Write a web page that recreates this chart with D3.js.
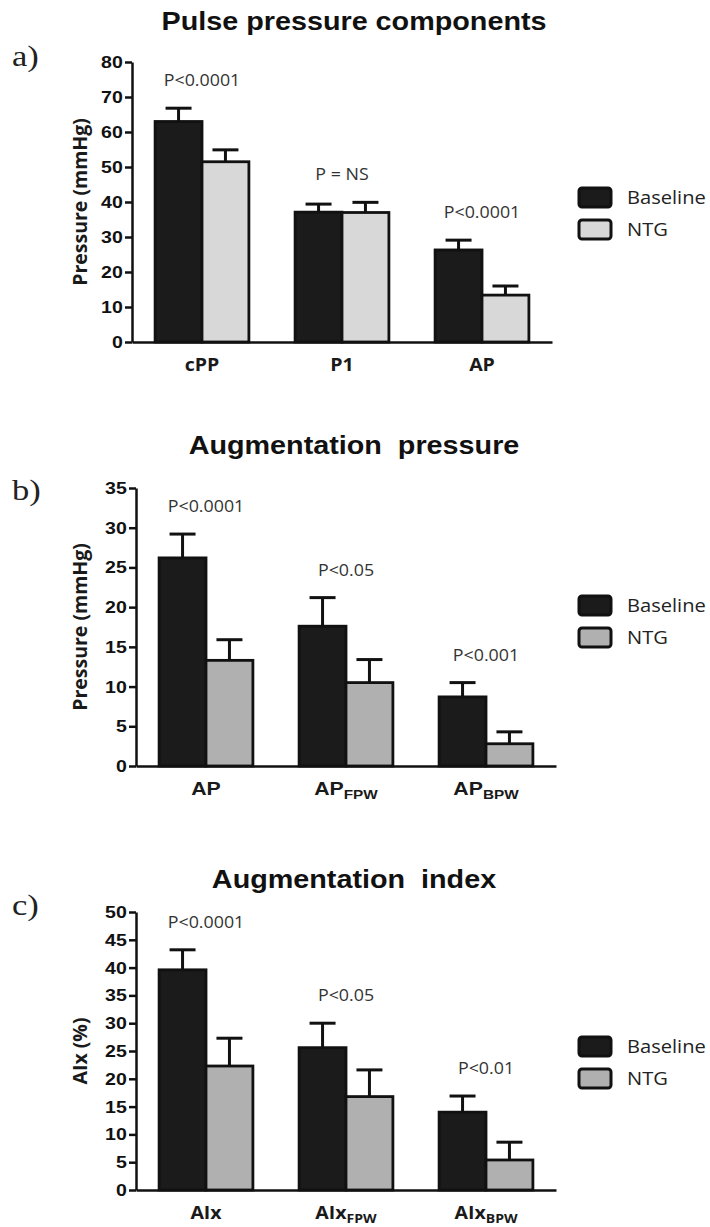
<!DOCTYPE html>
<html>
<head>
<meta charset="utf-8">
<script src="https://cdn.jsdelivr.net/npm/d3@7"></script>
<style>
  html, body { margin: 0; padding: 0; background: #fff; }
  svg { display: block; }
</style>
</head>
<body>
<div id="chart"></div>
<script>
// ---- Data -------------------------------------------------------------
const seriesNames = ["Baseline", "NTG"];

// a) Pulse pressure components (mmHg)
const categoriesA = ["cPP", "P1", "AP"];
const subscriptsA = ["", "", ""];
const baselineA = [63.0, 37.1, 26.3];
const baselineErrA = [3.8, 2.3, 2.8];
const ntgA = [51.5, 37.0, 13.4];
const ntgErrA = [3.4, 2.9, 2.6];
const pValuesA = ["P<0.0001", "P = NS", "P<0.0001"];
const yTicksA = [0, 10, 20, 30, 40, 50, 60, 70, 80];

// b) Augmentation pressure (mmHg)
const categoriesB = ["AP", "AP", "AP"];
const subscriptsB = ["", "FPW", "BPW"];
const baselineB = [26.2, 17.6, 8.7];
const baselineErrB = [3.0, 3.6, 1.8];
const ntgB = [13.3, 10.5, 2.8];
const ntgErrB = [2.6, 2.9, 1.5];
const pValuesB = ["P<0.0001", "P<0.05", "P<0.001"];
const yTicksB = [0, 5, 10, 15, 20, 25, 30, 35];

// c) Augmentation index (%)
const categoriesC = ["AIx", "AIx", "AIx"];
const subscriptsC = ["", "FPW", "BPW"];
const baselineC = [39.6, 25.6, 14.0];
const baselineErrC = [3.6, 4.4, 2.9];
const ntgC = [22.3, 16.8, 5.4];
const ntgErrC = [5.0, 4.8, 3.2];
const pValuesC = ["P<0.0001", "P<0.05", "P<0.01"];
const yTicksC = [0, 5, 10, 15, 20, 25, 30, 35, 40, 45, 50];

// ---- Drawing ----------------------------------------------------------
const W = 710, H = 1227;
const SX = 1.15; // glyphs in this figure are set slightly wide
const svg = d3.select("#chart").append("svg")
  .attr("width", W).attr("height", H)
  .attr("viewBox", `0 0 ${W} ${H}`);

function wideText(parent, x, y, str, style) {
  const t = parent.append("text")
    .attr("transform", `translate(${x},${y}) scale(${SX},1)`)
    .attr("x", 0).attr("y", 0)
    .text(str);
  Object.entries(style || {}).forEach(([k, v]) => t.attr(k, v));
  return t;
}

function drawPanel(p) {
  const g = svg.append("g");

  const y = d3.scaleLinear().domain([0, p.yTicks[p.yTicks.length - 1]])
    .range([p.bottom, p.top]);
  const x = d3.scaleBand().domain(d3.range(p.categories.length))
    .range([p.left, p.right]).paddingInner(0.33).paddingOuter(0.165);
  const xs = d3.scaleBand().domain(seriesNames).range([0, x.bandwidth()]);
  const fills = { Baseline: "#1b1b1b", NTG: p.ntgFill };

  const rows = p.categories.map((c, i) => ({
    i,
    values: [
      { s: "Baseline", v: p.baseline[i], e: p.baselineErr[i] },
      { s: "NTG", v: p.ntg[i], e: p.ntgErr[i] }
    ]
  }));

  // bars with upward error bars
  const grp = g.selectAll("g.grp").data(rows).join("g")
    .attr("transform", d => `translate(${x(d.i)},0)`);
  const bar = grp.selectAll("g.bar").data(d => d.values).join("g");
  bar.append("line")
    .attr("x1", d => xs(d.s) + xs.bandwidth() / 2)
    .attr("x2", d => xs(d.s) + xs.bandwidth() / 2)
    .attr("y1", d => y(d.v)).attr("y2", d => y(d.v + d.e))
    .attr("stroke", "#111").attr("stroke-width", 3);
  bar.append("line")
    .attr("x1", d => xs(d.s) + xs.bandwidth() / 2 - 13)
    .attr("x2", d => xs(d.s) + xs.bandwidth() / 2 + 13)
    .attr("y1", d => y(d.v + d.e)).attr("y2", d => y(d.v + d.e))
    .attr("stroke", "#111").attr("stroke-width", 3);
  bar.append("rect")
    .attr("x", d => xs(d.s))
    .attr("width", xs.bandwidth())
    .attr("y", d => y(d.v))
    .attr("height", d => y(0) - y(d.v))
    .attr("fill", d => fills[d.s])
    .attr("stroke", "#111").attr("stroke-width", 2.8);

  // significance labels above each pair
  rows.forEach(r => {
    const top = d3.max(r.values, d => d.v + d.e);
    wideText(g, x(r.i) + x.bandwidth() / 2, y(top) - 22, p.pValues[r.i], {
      "text-anchor": "middle", "font-family": "'Open Sans', sans-serif",
      "font-size": 15.5, fill: "#333"
    });
  });

  // y axis
  const yAxis = g.append("g").attr("transform", `translate(${p.left},0)`)
    .call(d3.axisLeft(y).tickValues(p.yTicks).tickSize(7).tickSizeOuter(0).tickPadding(1));
  yAxis.select(".domain").attr("stroke", "#111").attr("stroke-width", 2.5);
  yAxis.selectAll(".tick line").attr("stroke", "#111").attr("stroke-width", 2.5);
  yAxis.selectAll(".tick text")
    .attr("transform", `scale(${SX},1)`)
    .attr("font-family", "'Liberation Sans', Arial, sans-serif")
    .attr("font-weight", "bold").attr("font-size", 17).attr("fill", "#111");

  // x axis line
  const xAxis = g.append("g").attr("transform", `translate(0,${p.bottom})`)
    .call(d3.axisBottom(x).tickSize(0).tickSizeOuter(0).tickFormat(""));
  xAxis.select(".domain").attr("stroke", "#111").attr("stroke-width", 2.5);

  // category labels with optional subscripts
  p.categories.forEach((c, i) => {
    const t = wideText(g, x(i) + x.bandwidth() / 2, p.xLabelY, "", {
      "text-anchor": "middle", "font-family": p.xFont,
      "font-weight": "bold", "font-size": p.xFontSize, fill: "#1a1a1a"
    });
    t.append("tspan").text(c);
    if (p.subscripts[i]) {
      t.append("tspan").attr("dy", 4).attr("font-size", p.xFontSize * 0.72).text(p.subscripts[i]);
    }
  });

  // y axis title
  g.append("text")
    .attr("transform", `translate(${p.yTitleX},${(p.top + p.bottom) / 2}) rotate(-90)`)
    .attr("text-anchor", "middle")
    .attr("font-family", "'Open Sans', sans-serif")
    .attr("font-weight", "bold").attr("font-size", p.yTitleSize)
    .attr("fill", "#1a1a1a")
    .text(p.yTitle);

  // panel title
  wideText(g, 354, p.titleY, p.title, {
    "text-anchor": "middle", "font-family": "'Liberation Sans', Arial, sans-serif",
    "font-weight": "bold", "font-size": 25, fill: "#111"
  }).style("white-space", "pre");

  // panel tag
  wideText(g, 12, p.tagY, p.tag, {
    "font-family": "'Liberation Serif', 'Times New Roman', serif",
    "font-size": 30, fill: "#222"
  });

  // legend
  const lg = g.append("g").attr("transform", `translate(579,${p.legendY})`);
  seriesNames.forEach((s, k) => {
    lg.append("rect").attr("x", 0).attr("y", k * 32)
      .attr("width", 32).attr("height", 19).attr("rx", 3)
      .attr("fill", fills[s]).attr("stroke", "#111").attr("stroke-width", 3);
    wideText(lg, 48, k * 32 + 16, s, {
      "font-family": "'Open Sans', sans-serif", "font-size": 17.5, fill: "#222"
    });
  });
}

drawPanel({
  title: "Pulse pressure components", tag: "a)",
  categories: categoriesA, subscripts: subscriptsA,
  baseline: baselineA, baselineErr: baselineErrA, ntg: ntgA, ntgErr: ntgErrA,
  pValues: pValuesA, yTicks: yTicksA, yTitle: "Pressure (mmHg)",
  top: 62, bottom: 342, left: 132, right: 552,
  titleY: 30, tagY: 66, legendY: 188, xLabelY: 371, yTitleX: 87, yTitleSize: 19.5,
  ntgFill: "#d8d8d8", xFont: "'Open Sans', sans-serif", xFontSize: 17
});

drawPanel({
  title: "Augmentation  pressure", tag: "b)",
  categories: categoriesB, subscripts: subscriptsB,
  baseline: baselineB, baselineErr: baselineErrB, ntg: ntgB, ntgErr: ntgErrB,
  pValues: pValuesB, yTicks: yTicksB, yTitle: "Pressure (mmHg)",
  top: 488, bottom: 766, left: 136, right: 556,
  titleY: 454, tagY: 500, legendY: 596, xLabelY: 795, yTitleX: 87, yTitleSize: 19.5,
  ntgFill: "#b0b0b0", xFont: "'Liberation Sans', Arial, sans-serif", xFontSize: 18.5
});

drawPanel({
  title: "Augmentation  index", tag: "c)",
  categories: categoriesC, subscripts: subscriptsC,
  baseline: baselineC, baselineErr: baselineErrC, ntg: ntgC, ntgErr: ntgErrC,
  pValues: pValuesC, yTicks: yTicksC, yTitle: "AIx (%)",
  top: 912, bottom: 1190, left: 136, right: 556,
  titleY: 888, tagY: 915, legendY: 1037, xLabelY: 1219, yTitleX: 87, yTitleSize: 19.5,
  ntgFill: "#b0b0b0", xFont: "'Open Sans', sans-serif", xFontSize: 17
});
</script>
</body>
</html>
